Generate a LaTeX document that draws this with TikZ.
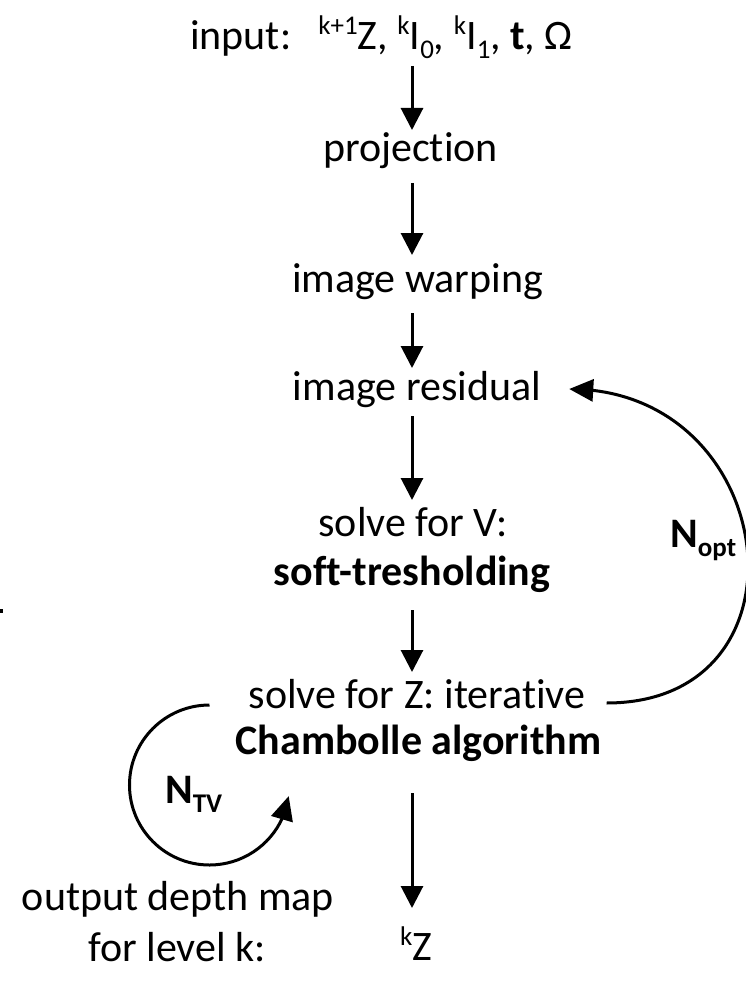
\documentclass[tikz,border=0pt]{standalone}
\usepackage{fontspec}
\setmainfont{Carlito}[Ligatures={NoCommon}]
\usetikzlibrary{arrows.meta,calc,bending}
\newcommand\mysup[1]{\raisebox{15pt}{\fontsize{27}{27}\selectfont #1}}
\newcommand\mysub[1]{\raisebox{-9pt}{\fontsize{27}{27}\selectfont #1}}
\begin{document}
\begin{tikzpicture}[x=1pt,y=1pt,
  lbl/.style={font=\fontsize{42}{50}\selectfont, inner sep=0pt, anchor=base},
  arr/.style={line width=3pt, -{Triangle[length=22pt,width=22pt]}},
  loopline/.style={line width=3pt, -{Triangle[length=24pt,width=22pt]}}]
\useasboundingbox (0,0) rectangle (745,-987);
\coordinate (cx) at (412,0);

\node[lbl, anchor=base west] (input) at (190,-50)
  {input:\hspace{27pt}\mysup{k+1}Z, \mysup{k}I\mysub{0}, \mysup{k}I\mysub{1}, \textbf{t}, Ω};
\node[lbl] (proj)   at (410.5,-162) {projection};
\node[lbl] (warp)   at (417.5,-292) {image warping};
\node[lbl] (resid)  at (417,-400) {image residual};
\node[lbl] (solveV) at (413,-536) {solve for V:};
\node[lbl] (soft)   at (412,-585) {\textbf{soft-tresholding}};
\node[lbl] (solveZ) at (417,-708) {solve for Z: iterative};
\node[lbl] (chamb)  at (418.5,-754) {\textbf{Chambolle algorithm}};
\node[lbl] (kZ)     at (416,-960) {\mysup{k}Z};
\node[lbl] (out1)   at (178,-910) {output depth map};
\node[lbl] (out2)   at (177,-961) {for level k:};

\node[lbl, anchor=base west] (nopt) at (670,-547) {\textbf{N}\mysub{\textbf{opt}}};
\node[lbl, anchor=base west] (ntv)  at (165,-803) {\textbf{N}\mysub{\textbf{TV}}};

\draw[arr] ($(input.base -| cx)+(0,-16)$) -- ($(proj.base -| cx)+(0,32)$);
\draw[arr] ($(proj.base -| cx)+(0,-21)$) -- ($(warp.base -| cx)+(0,37)$);
\draw[arr] ($(warp.base -| cx)+(0,-21)$) -- ($(resid.base -| cx)+(0,32)$);
\draw[arr] ($(resid.base -| cx)+(0,-16)$) -- ($(solveV.base -| cx)+(0,36)$);
\draw[arr] ($(soft.base -| cx)+(0,-25)$) -- ($(solveZ.base -| cx)+(0,36)$);
\draw[arr] ($(chamb.base -| cx)+(0,-39)$) -- ($(kZ.base -| cx)+(0,52)$);

\draw[loopline] ($(solveZ.base east)+(21,5)$) .. controls +(212,0) and +(212,0) .. ($(resid.base east)+(28,11)$);
\draw[loopline] ($(solveZ.base west)+(-39,3)$) arc[start angle=90, end angle=352, radius=80];

\fill (0,-609) rectangle (3,-613);
\end{tikzpicture}
\end{document}
